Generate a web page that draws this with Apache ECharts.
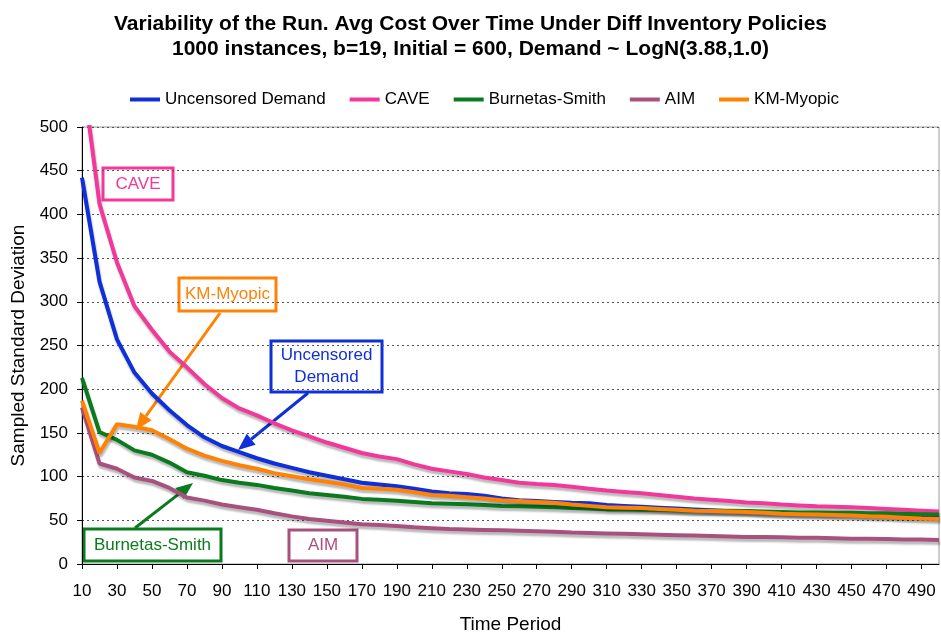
<!DOCTYPE html>
<html>
<head>
<meta charset="utf-8">
<script src="https://cdn.jsdelivr.net/npm/echarts@6/dist/echarts.min.js"></script>
<style>
html, body { margin: 0; padding: 0; background: #fff; }
#chart { width: 941px; height: 639px; }
</style>
</head>
<body>
<div id="chart"></div>
<script>
// time periods 10..500
var periods = ['10','20','30','40','50','60','70','80','90','100',
    '110','120','130','140','150','160','170','180','190','200',
    '210','220','230','240','250','260','270','280','290','300',
    '310','320','330','340','350','360','370','380','390','400',
    '410','420','430','440','450','460','470','480','490','500'];

var uncensored = [442,323,257,219,195,176,159,145,135,128,
    121,115,110,105,101,97,93,91,89,86,
    83,81,80,78,75,73,72,71,70,69.5,
    67.5,66.5,65.5,64.5,63.5,62.5,61.5,60.5,60,59,
    58.5,58,57.5,57,56.5,56,55.5,55,54.5,54];

var cave = [565,412,345,295,268,243,225,206,190,178,
    170,161,153,146,139,133,127,123,120,114,
    109,106,103,99,96,93,91.5,90.5,88.5,86,
    84,82.5,81,79,77,75,73.5,72,70.5,69.5,
    68,67,66,65.5,65,64,63,62,61,60];

var burnetas = [213,151,142,130,125,116,105,101,96,93,
    90.5,87,84,81,79,77,74.5,73.5,72.5,71,
    69.5,69,68.5,67.5,66.5,66,65.5,65,64,63.5,
    62.5,62.5,62,62,61.5,61,61,61,60.5,60,
    59.5,59,59,58.5,58.5,58,58,57.5,57,56.5];

var aim = [179,115,109,99,95,87,76,72.5,68,65,
    62,58,54.5,51.5,49.5,47.5,45.5,44.5,43.5,42,
    41,40,39.5,39,38.5,38,37.5,37,36,35.5,
    35,34.5,34,33.5,33,32.5,32,31.5,31,31,
    30.5,30,30,29.5,29,29,28.5,28,28,27.5];

var kmMyopic = [187,127,160,157,153,143,132,124,118,113,
    109,104,100.5,97,94,91,87,86,85,82,
    79,78,76.5,75,73,72,71,70,68,66.5,
    65,64.5,64,63,62,61,60.5,60,59.5,58.5,
    57.5,57,56.5,56,55.5,54.5,54,53,52,51.5];

var FONT = 'Liberation Sans, Arial, sans-serif';
var colors = {
    ud: '#0F2FD8',
    cave: '#F2389A',
    bs: '#0A7A1E',
    aim: '#A8507E',
    km: '#FF8205'
};

function mkSeries(name, data, color) {
    return {
        name: name,
        type: 'line',
        data: data,
        symbol: 'none',
        clip: true,
        lineStyle: {
            color: color,
            width: 4,
            shadowColor: 'rgba(0,0,0,0.28)',
            shadowBlur: 2,
            shadowOffsetX: 1,
            shadowOffsetY: 3
        },
        itemStyle: {color: color}
    };
}

function box(x, y, w, h, color, text) {
    return {
        type: 'group',
        children: [
            {
                type: 'rect',
                shape: {x: x, y: y, width: w, height: h},
                style: {fill: '#fff', stroke: color, lineWidth: 3}
            },
            {
                type: 'text',
                x: x + w / 2,
                y: y + h / 2,
                style: {
                    text: text, fill: color, font: '17px ' + FONT,
                    align: 'center', verticalAlign: 'middle', lineHeight: 22
                }
            }
        ]
    };
}

function arrow(x1, y1, x2, y2, color) {
    var dx = x2 - x1, dy = y2 - y1;
    var len = Math.sqrt(dx * dx + dy * dy);
    var ux = dx / len, uy = dy / len;
    var hl = 17, hw = 7;
    var bx = x2 - ux * hl, by = y2 - uy * hl;
    return {
        type: 'group',
        children: [
            {
                type: 'line',
                shape: {x1: x1, y1: y1, x2: bx, y2: by},
                style: {stroke: color, lineWidth: 3}
            },
            {
                type: 'polygon',
                shape: {points: [[x2, y2], [bx - uy * hw, by + ux * hw], [bx + uy * hw, by - ux * hw]]},
                style: {fill: color}
            }
        ]
    };
}

var chart = echarts.init(document.getElementById('chart'));
var option = {
    animation: false,
    backgroundColor: '#fff',
    textStyle: {fontFamily: FONT},
    title: {
        text: 'Variability of the Run. Avg Cost Over Time Under Diff Inventory Policies\n1000 instances, b=19, Initial = 600, Demand ~ LogN(3.88,1.0)',
        left: 'center',
        top: 7,
        textStyle: {fontSize: 21, fontWeight: 'bold', color: '#000', lineHeight: 25, fontFamily: FONT}
    },
    legend: {
        top: 86,
        left: 125,
        icon: 'rect',
        itemWidth: 30,
        itemHeight: 4,
        itemGap: 24,
        textStyle: {fontSize: 17, color: '#000', fontFamily: FONT},
        data: ['Uncensored Demand', 'CAVE', 'Burnetas-Smith', 'AIM', 'KM-Myopic']
    },
    grid: {
        left: 82, right: 2, top: 127, bottom: 71,
        show: true, borderColor: '#9a9a9a', borderWidth: 1
    },
    xAxis: {
        type: 'category',
        data: periods,
        boundaryGap: false,
        axisLine: {lineStyle: {color: '#000', width: 1}},
        axisTick: {show: true, interval: 1, length: 5, lineStyle: {color: '#000'}},
        axisLabel: {interval: 1, fontSize: 17, color: '#000', margin: 19, fontFamily: FONT},
        splitLine: {show: false},
        name: 'Time Period',
        nameLocation: 'middle',
        nameGap: 51,
        nameTextStyle: {fontSize: 19, color: '#000', fontFamily: FONT}
    },
    yAxis: {
        type: 'value',
        min: 0,
        max: 500,
        interval: 50,
        axisLine: {show: true, lineStyle: {color: '#000', width: 1}},
        axisTick: {show: true, length: 5, lineStyle: {color: '#000'}},
        axisLabel: {fontSize: 17, color: '#000', margin: 14, fontFamily: FONT},
        splitLine: {show: true, lineStyle: {color: '#555', type: [2, 3], width: 1}},
        name: 'Sampled Standard Deviation',
        nameLocation: 'middle',
        nameGap: 52,
        nameTextStyle: {fontSize: 19, color: '#000', fontFamily: FONT}
    },
    series: [
        mkSeries('Uncensored Demand', uncensored, colors.ud),
        mkSeries('CAVE', cave, colors.cave),
        mkSeries('Burnetas-Smith', burnetas, colors.bs),
        mkSeries('AIM', aim, colors.aim),
        mkSeries('KM-Myopic', kmMyopic, colors.km)
    ],
    graphic: [
        arrow(220, 313, 136, 430, colors.km),
        arrow(308, 393, 238, 450, colors.ud),
        arrow(135, 528, 193, 483, colors.bs),
        box(103, 168, 70, 32, colors.cave, 'CAVE'),
        box(179, 278, 97, 33, colors.km, 'KM-Myopic'),
        box(271, 341, 111, 51, colors.ud, 'Uncensored\nDemand'),
        box(84, 529, 137, 32, colors.bs, 'Burnetas-Smith'),
        box(289, 530, 68, 31, colors.aim, 'AIM')
    ]
};
chart.setOption(option);
</script>
</body>
</html>
